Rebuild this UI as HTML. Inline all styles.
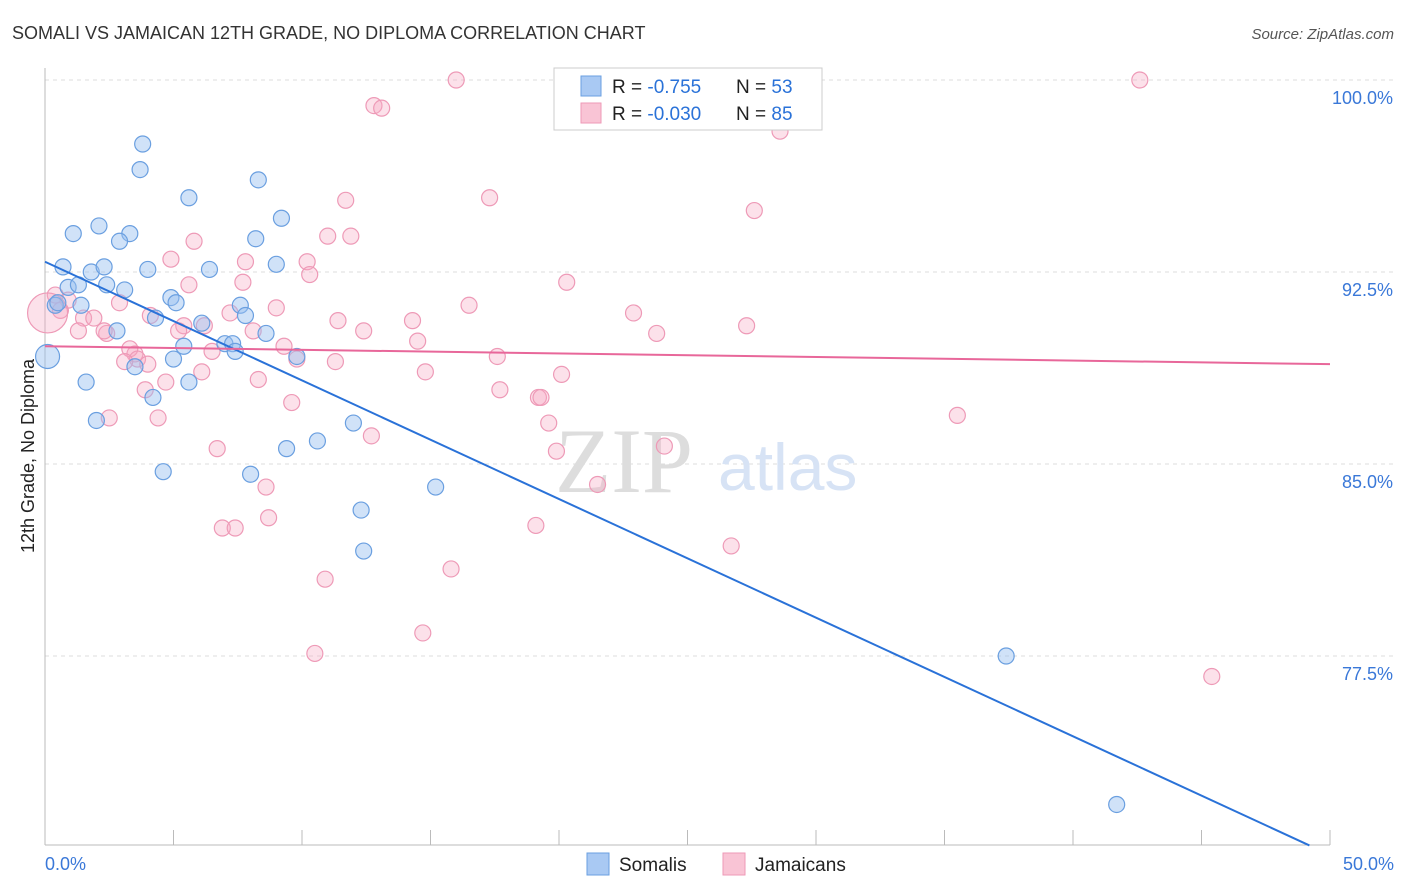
<!DOCTYPE html>
<html><head><meta charset="utf-8"><style>
body{margin:0;background:#fff;font-family:"Liberation Sans",sans-serif}
svg{display:block}
</style></head><body>
<svg id="c" width="1406" height="892"></svg>
<script>
const blueX=[0.1,3.8,3.7,5.6,8.3,9.2,1.1,2.1,3.3,2.9,8.2,0.7,1.8,2.3,4.0,6.4,9.0,2.4,0.9,1.3,3.1,0.4,1.4,4.9,5.1,7.6,7.8,4.3,2.8,6.1,8.6,7.0,7.3,7.4,5.4,5.0,9.8,3.5,1.6,5.6,4.2,2.0,12.0,10.6,9.4,4.6,8.0,15.2,12.3,12.4,37.4,41.7,0.5];
const blueY=[89.2,97.5,96.5,95.4,96.1,94.6,94.0,94.3,94.0,93.7,93.8,92.7,92.5,92.7,92.6,92.6,92.8,92.0,91.9,92.0,91.8,91.2,91.2,91.5,91.3,91.2,90.8,90.7,90.2,90.5,90.1,89.7,89.7,89.4,89.6,89.1,89.2,88.8,88.2,88.2,87.6,86.7,86.6,85.9,85.6,84.7,84.6,84.1,83.2,81.6,77.5,71.7,91.3];
const pinkX=[16.0,26.5,42.6,12.8,13.1,28.6,11.7,17.3,27.6,11.0,11.9,5.8,4.9,7.8,10.2,10.3,20.3,7.7,5.6,0.4,0.9,2.9,9.0,16.5,22.9,11.4,14.3,27.3,23.8,0.6,1.5,1.9,1.3,2.4,2.3,5.4,6.2,4.1,5.2,7.2,8.1,12.4,14.5,9.3,6.5,9.8,3.5,3.3,3.6,3.1,4.0,11.3,17.6,14.8,20.1,6.1,8.3,4.7,3.9,17.7,19.2,19.3,9.6,2.5,4.4,35.5,12.7,19.6,24.1,19.9,6.7,8.6,21.5,8.7,6.9,7.4,19.1,26.7,15.8,10.9,14.7,10.5,45.4,0.1];
const pinkY=[100,100,100,99.0,98.9,98.0,95.3,95.4,94.9,93.9,93.9,93.7,93.0,92.9,92.9,92.4,92.1,92.1,92.0,91.6,91.4,91.3,91.1,91.2,90.9,90.6,90.6,90.4,90.1,91.0,90.7,90.7,90.2,90.1,90.2,90.4,90.4,90.8,90.2,90.9,90.2,90.2,89.8,89.6,89.4,89.1,89.3,89.5,89.1,89.0,88.9,89.0,89.2,88.6,88.5,88.6,88.3,88.2,87.9,87.9,87.6,87.6,87.4,86.8,86.8,86.9,86.1,86.6,85.7,85.5,85.6,84.1,84.2,82.9,82.5,82.5,82.6,81.8,80.9,80.5,78.4,77.6,76.7,90.9];
const yTicks=[100,92.5,85,77.5];
const yTickLabels=["100.0%","92.5%","85.0%","77.5%"];
const blueLine=[[0,92.9],[49.2,70.1]];
const pinkLine=[[0,89.6],[50,88.9]];
const NS="http://www.w3.org/2000/svg";
const svg=document.getElementById('c');
const X=v=>45+v/50*1285, Y=v=>80+(100-v)*25.6;
function el(t,a,p){const e=document.createElementNS(NS,t);for(const k in a)e.setAttribute(k,a[k]);(p||svg).appendChild(e);return e;}
let t;
t=el('text',{x:12,y:39,'font-size':18,fill:'#333'});t.textContent="SOMALI VS JAMAICAN 12TH GRADE, NO DIPLOMA CORRELATION CHART";


t=el('text',{x:1394,y:39,'font-size':15,fill:'#555','text-anchor':'end','font-style':'italic'});t.textContent="Source: ZipAtlas.com";


yTicks.forEach((v,i)=>{
 const g=el('line',{x1:45,x2:1394,y1:Y(v),y2:Y(v),stroke:'#ddd','stroke-dasharray':'4,4'});
 
 
 const l=el('text',{x:1393,y:Y(v)+24,'font-size':18,fill:'#3a78d8','text-anchor':'end'});l.textContent=yTickLabels[i];
 
 
});
el('line',{x1:45,x2:45,y1:68,y2:845,stroke:'#bbb'});
el('line',{x1:45,x2:1330,y1:845,y2:845,stroke:'#bbb'});
for(let i=0;i<=10;i++){const x=X(i*5);const tk=el('line',{x1:x,x2:x,y1:830,y2:845,stroke:'#bbb'});
 
 }
t=el('text',{x:45,y:870,'font-size':18,fill:'#3a78d8'});t.textContent="0.0%";


t=el('text',{x:1394,y:870,'font-size':18,fill:'#3a78d8','text-anchor':'end'});t.textContent="50.0%";


t=el('text',{x:34,y:456,'font-size':18,fill:'#222','text-anchor':'middle',transform:'rotate(-90 34 456)'});t.textContent="12th Grade, No Diploma";


t=el('text',{x:555,y:492,'font-size':92,fill:'#ddd','font-family':'Liberation Serif'});t.textContent="ZIP";


t=el('text',{x:718,y:490,'font-size':66,fill:'#d7e3f5'});t.textContent="atlas";


pinkX.forEach((x,i)=>{const r=i===pinkX.length-1?20:8;const c=el('circle',{cx:X(x),cy:Y(pinkY[i]),r:r,fill:'rgba(246,170,195,0.35)',stroke:'#ee9ab7','stroke-width':1.2});
 
 });
blueX.forEach((x,i)=>{const r=i===0?12:8;const c=el('circle',{cx:X(x),cy:Y(blueY[i]),r:r,fill:'rgba(150,190,240,0.45)',stroke:'#6a9fe0','stroke-width':1.2});
 
 });
let L=el('line',{x1:X(blueLine[0][0]),y1:Y(blueLine[0][1]),x2:X(blueLine[1][0]),y2:Y(blueLine[1][1]),stroke:'#2a72d8','stroke-width':2});


L=el('line',{x1:X(pinkLine[0][0]),y1:Y(pinkLine[0][1]),x2:X(pinkLine[1][0]),y2:Y(pinkLine[1][1]),stroke:'#e8679a','stroke-width':2});


// legend box
const lg=el('g',{});


el('rect',{x:554,y:68,width:268,height:62,fill:'#fff',stroke:'#ccc'},lg);
[[86,'#a9c9f3','#6a9fe0','-0.755','53'],[113,'#f9c4d5','#ee9ab7','-0.030','85']].forEach(r=>{
 el('rect',{x:581,y:r[0]-10,width:20,height:20,fill:r[1],stroke:r[2]},lg);
 const a=el('text',{x:612,y:r[0]+7,'font-size':19,fill:'#222'},lg);
 a.innerHTML='R = <tspan fill="#2a72d8"> '+r[3]+'</tspan><tspan x="736">N = </tspan><tspan fill="#2a72d8">'+r[4]+'</tspan>';
});
// bottom legend
[[587,'#a9c9f3','#6a9fe0','Somalis','legend-somalis'],[723,'#f9c4d5','#ee9ab7','Jamaicans','legend-jamaicans']].forEach(r=>{
 const g=el('g',{});
 
 
 el('rect',{x:r[0],y:853,width:22,height:22,fill:r[1],stroke:r[2]},g);
 const a=el('text',{x:r[0]+32,y:871,'font-size':19,fill:'#222'},g);a.textContent=r[3];
});
</script>
</body></html>
